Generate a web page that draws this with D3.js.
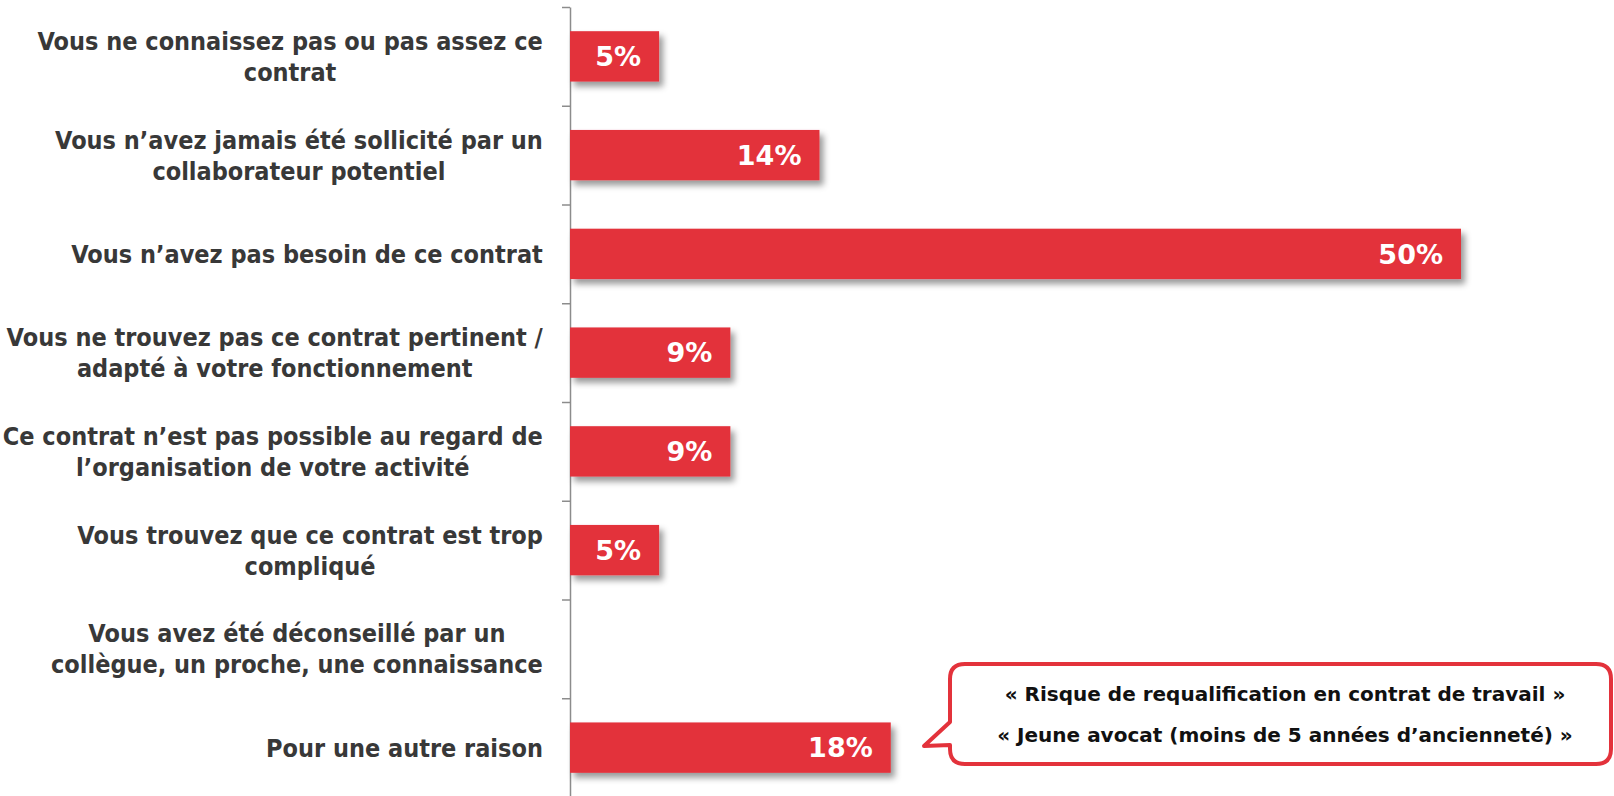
<!DOCTYPE html>
<html>
<head>
<meta charset="utf-8">
<script src="https://cdn.jsdelivr.net/npm/d3@7"></script>
<style>
  html, body { margin: 0; padding: 0; background: #ffffff; }
  svg { display: block; }
</style>
</head>
<body>
<svg id="chart" width="1614" height="796"></svg>
<script>
// Reasons for not using the contract (% of respondents)
const categories = [
  ["Vous ne connaissez pas ou pas assez ce", "contrat"],
  ["Vous n\u2019avez jamais été sollicité par un", "collaborateur potentiel"],
  ["Vous n\u2019avez pas besoin de ce contrat"],
  ["Vous ne trouvez pas ce contrat pertinent /", "adapté à votre fonctionnement"],
  ["Ce contrat n\u2019est pas possible au regard de", "l\u2019organisation de votre activité"],
  ["Vous trouvez que ce contrat est trop", "compliqué"],
  ["Vous avez été déconseillé par un", "collègue, un proche, une connaissance"],
  ["Pour une autre raison"]
];
const values = [5, 14, 50, 9, 9, 5, null, 18];
const calloutLines = [
  "« Risque de requalification en contrat de travail »",
  "« Jeune avocat (moins de 5 années d\u2019ancienneté) »"
];

const RED = "#e3323b";
const svg = d3.select("#chart");

const axisX = 570;
const plotTop = 7, plotBottom = 797;

const y = d3.scaleBand()
  .domain(d3.range(categories.length))
  .range([plotTop, plotBottom])
  .paddingInner(0.49)
  .paddingOuter(0.245);

const x = d3.scaleLinear().domain([0, 50]).range([axisX, 1461]);

// drop shadow for bars
const defs = svg.append("defs");
const f = defs.append("filter").attr("id", "shadow")
  .attr("x", "-5%").attr("y", "-30%").attr("width", "120%").attr("height", "180%");
f.append("feDropShadow")
  .attr("dx", 4).attr("dy", 5).attr("stdDeviation", 3)
  .attr("flood-color", "#000").attr("flood-opacity", 0.4);

// category axis: ticks sit on the band boundaries
const boundary = d3.scaleLinear().domain([0, categories.length]).range([plotTop, plotBottom]);
const axisG = svg.append("g")
  .attr("transform", `translate(${axisX},0)`)
  .call(d3.axisLeft(boundary)
    .tickValues(d3.range(categories.length + 1))
    .tickFormat("")
    .tickSize(8)
    .tickSizeOuter(0));
axisG.selectAll("path, line").attr("stroke", "#8c8c8c").attr("stroke-width", 1.5);

// bars
const bars = categories.map((c, i) => ({ i, v: values[i] })).filter(d => d.v != null);
svg.append("g").selectAll("rect").data(bars).join("rect")
  .attr("x", x(0))
  .attr("y", d => y(d.i))
  .attr("width", d => x(d.v) - x(0))
  .attr("height", y.bandwidth())
  .attr("fill", RED)
  .attr("filter", "url(#shadow)");

// value labels inside bar ends
svg.append("g").selectAll("text").data(bars).join("text")
  .attr("x", d => x(d.v) - 18)
  .attr("y", d => y(d.i) + y.bandwidth() / 2)
  .attr("dy", "0.36em")
  .attr("text-anchor", "end")
  .attr("fill", "#ffffff")
  .attr("font-family", "'DejaVu Sans', sans-serif")
  .attr("font-weight", "bold")
  .attr("font-size", 27)
  .text(d => d.v + "%");

// category labels: lines centered within a block right-aligned to the axis
const labelRight = 543;
const lineH = 31;
const sx = 0.9;
const labelG = svg.append("g")
  .attr("font-family", "'DejaVu Sans', sans-serif")
  .attr("font-weight", "bold")
  .attr("font-size", 25)
  .attr("fill", "#383838");

categories.forEach((lines, i) => {
  const cy = y(i) + y.bandwidth() / 2;
  const g = labelG.append("g");
  const texts = lines.map((t, k) => g.append("text")
    .attr("x", 0)
    .attr("y", cy + (k - (lines.length - 1) / 2) * lineH)
    .attr("dy", "0.36em")
    .attr("text-anchor", "middle")
    .text(t));
  const w = d3.max(texts, t => t.node().getComputedTextLength());
  g.attr("transform", `translate(${labelRight - sx * w / 2},0) scale(${sx},1)`);
});

// speech-bubble callout pointing to the last bar
const bx0 = 950, bx1 = 1611, by0 = 664, by1 = 764, r = 15;
const tailTop = 722, tipX = 924, tipY = 746, tailBase = 745;
const p = d3.path();
p.moveTo(bx0 + r, by0);
p.lineTo(bx1 - r, by0);
p.quadraticCurveTo(bx1, by0, bx1, by0 + r);
p.lineTo(bx1, by1 - r);
p.quadraticCurveTo(bx1, by1, bx1 - r, by1);
p.lineTo(bx0 + r, by1);
p.quadraticCurveTo(bx0, by1, bx0, by1 - r);
p.lineTo(bx0, tailBase);
p.lineTo(tipX, tipY);
p.lineTo(bx0, tailTop);
p.lineTo(bx0, by0 + r);
p.quadraticCurveTo(bx0, by0, bx0 + r, by0);
p.closePath();
svg.append("path")
  .attr("d", p.toString())
  .attr("fill", "#ffffff")
  .attr("stroke", RED)
  .attr("stroke-width", 4)
  .attr("stroke-linejoin", "round");

svg.append("g")
  .attr("font-family", "'DejaVu Sans', sans-serif")
  .attr("font-weight", "bold")
  .attr("font-size", 20)
  .attr("fill", "#111111")
  .attr("text-anchor", "middle")
  .selectAll("text").data(calloutLines).join("text")
  .attr("x", 1285)
  .attr("y", (d, k) => 694 + k * 41)
  .attr("dy", "0.36em")
  .text(d => d);
</script>
</body>
</html>
